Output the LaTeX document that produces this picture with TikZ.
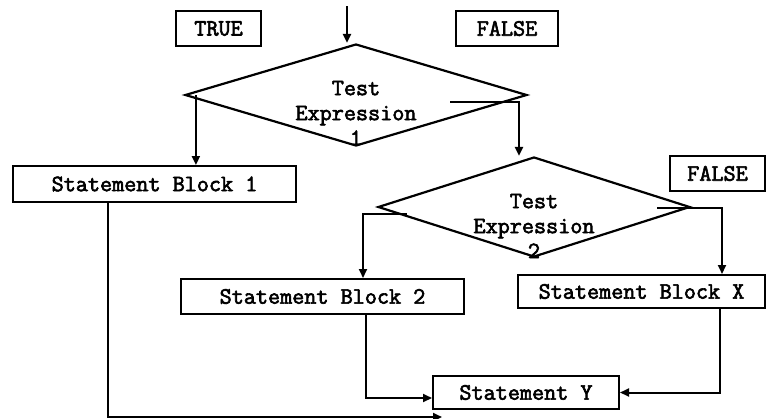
\documentclass[tikz,border=0pt]{standalone}
\usepackage{fontspec}
\newfontfamily\flowfont[AutoFakeBold=2.6]{Latin Modern Mono}
\usetikzlibrary{arrows.meta,shapes.geometric}

\tikzset{
  box/.style={draw, rectangle, line width=2pt, inner sep=0pt},
  test/.style={draw, diamond, line width=2.2pt, inner sep=0pt},
  lbl/.style={align=center, inner sep=0pt}
}

\begin{document}
\begin{tikzpicture}[>={Triangle[length=9pt,width=8pt]}, x=1pt, y=-1pt,
    line width=2pt, font=\fontsize{23.5}{25}\selectfont\flowfont\bfseries]
    \useasboundingbox (0,0) rectangle (766,418);

    % condition labels
    \node[box, minimum width=85, minimum height=35] (true) at (218.5,28.5) {TRUE};
    \node[box, minimum width=102, minimum height=35] (false1) at (507,28.5) {FALSE};
    \node[box, minimum width=95, minimum height=35] (false2) at (717.5,173.5) {FALSE};

    % the two tests
    \node[test, minimum width=342, minimum height=102] (d1) at (356,95) {};
    \node[lbl] (d1text) at (356,113) {Test\\Expression\\1};
    \node[test, minimum width=312, minimum height=100] (d2) at (534,207) {};
    \node[lbl] (d2text) at (534,226) {Test\\Expression\\2};

    % statement blocks
    \node[box, minimum width=283, minimum height=36] (sb1) at (154.5,184) {Statement Block 1};
    \node[box, minimum width=283, minimum height=35] (sb2) at (322.5,296.5) {Statement Block 2};
    \node[box, minimum width=247, minimum height=33] (sbx) at (641.5,291.5) {Statement Block X};
    \node[box, minimum width=186, minimum height=33] (y) at (526,392.5) {Statement Y};

    % entry
    \coordinate (start) at (347,6);
    \draw[->] (start) -- (start |- d1.north);

    % branches of test 1
    \coordinate (t1) at (450,102);
    \draw[->] ([xshift=12pt]d1.west) -- ([xshift=12pt]d1.west |- sb1.north);
    \draw[->] (t1) -| ([xshift=-15pt]d2.north);

    % branches of test 2
    \coordinate (t2) at (407,214);
    \coordinate (t3) at (657,208);
    \draw[->] (t2) -| ([xshift=40.5pt]sb2.north);
    \draw[->] (t3) -| ([xshift=80.5pt]sbx.north);

    % to statement Y
    \draw[->] ([xshift=-46.5pt]sb1.south) |- ([xshift=10pt,yshift=-7pt]y.south west);
    \draw[->] ([xshift=43.5pt]sb2.south) |- ([yshift=-5.5pt]y.west);
    \draw[->] ([xshift=78.5pt]sbx.south) |- (y.east);
\end{tikzpicture}
\end{document}
